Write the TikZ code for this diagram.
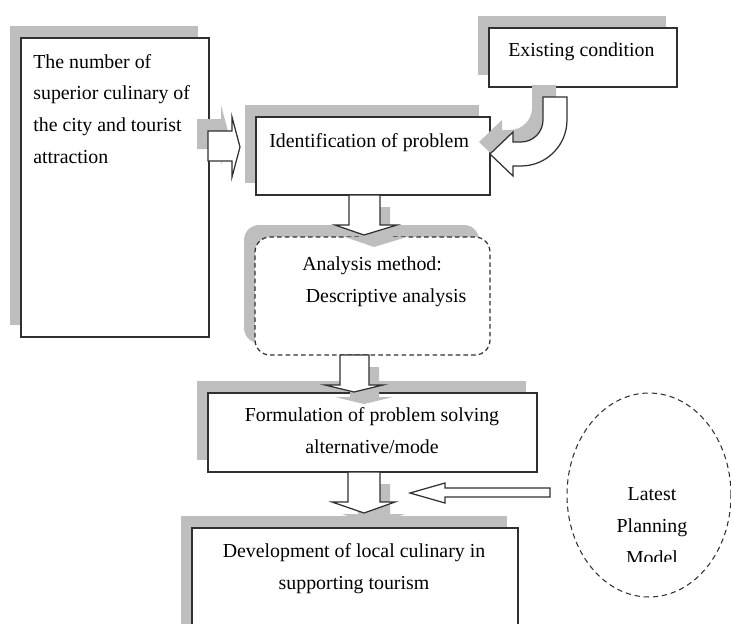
\documentclass[tikz,border=0pt]{standalone}
\usepackage{fontspec}
\setmainfont{Liberation Serif}
\usetikzlibrary{shadows,shapes.geometric}

\definecolor{shadowgray}{HTML}{BEBEBE}
\definecolor{linegray}{HTML}{303030}

\tikzset{
    box/.style={draw=linegray, line width=0.7pt, fill=white, inner sep=0pt,
        drop shadow={shadow xshift=-0.22cm, shadow yshift=0.24cm, opacity=1, fill=shadowgray}},
    methodbox/.style={box, dash pattern=on 2.6pt off 1.8pt, rounded corners=0.3cm},
    blockarrow/.style={draw=linegray, line width=0.7pt, fill=white,
        drop shadow={shadow xshift=-0.22cm, shadow yshift=0.24cm, opacity=1, fill=shadowgray}},
    downblock/.style={draw=linegray, line width=0.7pt, fill=white,
        drop shadow={shadow xshift=0.2cm, shadow yshift=-0.24cm, opacity=1, fill=shadowgray}},
    txt/.style={inner sep=0pt, font=\fontsize{11.3}{18}\selectfont},
}

\begin{document}
\begin{tikzpicture}[x=0.02cm, y=-0.02cm]
    \useasboundingbox (0,0) rectangle (731,623);
    \clip (0,0) rectangle (731,623);

    % boxes
    \node[box, minimum width=3.76cm, minimum height=5.98cm] (num) at (115,187.5) {};
    \node[box, minimum width=4.68cm, minimum height=1.56cm] (ident) at (373,156) {};
    \node[box, minimum width=3.76cm, minimum height=1.18cm] (exist) at (583,57.5) {};
    \node[methodbox, minimum width=4.7cm, minimum height=2.36cm] (anal) at (372.5,296) {};
    \node[box, minimum width=6.58cm, minimum height=1.58cm] (form) at (372.5,432.5) {};
    \node[box, minimum width=6.52cm, minimum height=2.44cm] (dev) at (355,589) {};
    \node[draw=linegray, line width=0.6pt, dash pattern=on 3pt off 2.2pt, ellipse,
        minimum width=3.28cm, minimum height=4.08cm, inner sep=0pt] (plan) at (649,495) {};

    % texts (base = baseline of the last line)
    \node[txt, align=left, anchor=base west] (numtext) at (33,163)
        {The number of\\superior culinary of\\the city and tourist\\attraction};
    \node[txt, anchor=base west] (identtext) at (269,147) {Identification of problem};
    \node[txt, anchor=base west] (existtext) at (508,56) {Existing condition};
    \node[txt, align=left, anchor=base west] (analtext) at (302,302)
        {Analysis method:\\\hspace{2pt}Descriptive analysis};
    \node[txt, align=center, anchor=base] (formtext) at (372,453)
        {Formulation of problem solving\\alternative/mode};
    \node[txt, align=center, anchor=base] (devtext) at (354,589)
        {Development of local culinary in\\supporting tourism};
    \begin{scope}
        \clip (560,400) rectangle (740,561);
        \node[txt, align=center, anchor=base] (plantext) at (652,564)
            {Latest\\Planning\\Model};
    \end{scope}

    % block arrows
    \draw[blockarrow] (208,131) -- (232,131) -- (232,117) -- (240,147)
        -- (232,177) -- (232,161) -- (208,161) -- cycle;
    \draw[blockarrow] (543,97) -- (567,97) -- (567,120)
        arc[start angle=0, end angle=-90, radius=0.92cm] -- (513,166)
        -- (513,176) -- (490,154) -- (513,132) -- (513,142) -- (521,142)
        arc[start angle=-90, end angle=0, radius=0.44cm] -- cycle;
    \draw[downblock] (349,195) -- (349,225) -- (335,225) -- (364,235)
        -- (397,225) -- (380,225) -- (380,195) -- cycle;
    \draw[downblock] (340,355) -- (340,385) -- (325,385) -- (354,392)
        -- (383,385) -- (369,385) -- (369,355) -- cycle;
    \draw[downblock] (348,472) -- (348,502) -- (332,502) -- (364,513)
        -- (395,502) -- (380,502) -- (380,472) -- cycle;
    \draw[draw=linegray, line width=0.7pt, fill=white] (550,488) -- (445,488)
        -- (445,483) -- (410,493) -- (445,503) -- (445,497) -- (550,497) -- cycle;
\end{tikzpicture}
\end{document}
